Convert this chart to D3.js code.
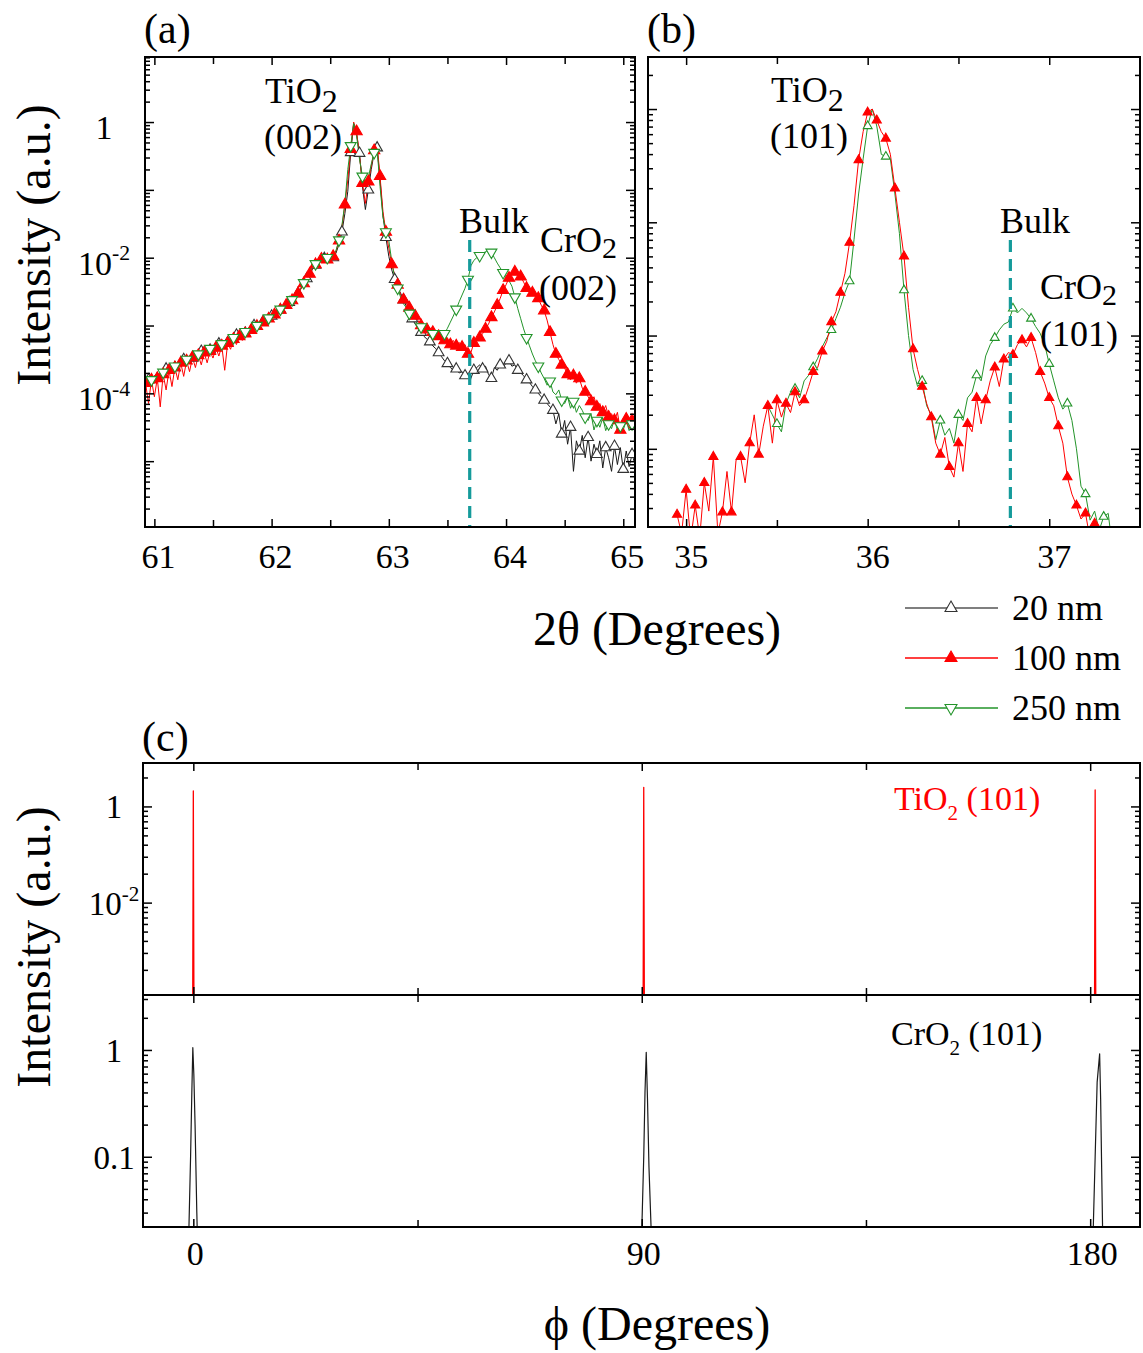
<!DOCTYPE html>
<html>
<head>
<meta charset="utf-8">
<script src="https://cdn.jsdelivr.net/npm/d3@7"></script>
<style>
body { margin: 0; background: #fff; }
text { font-family: "Liberation Serif", "Times New Roman", serif; }
</style>
</head>
<body>
<script>
// (a) 2theta scan, TiO2/CrO2 (002). values are log10 of normalised intensity
var aStart = 60.925, aStep = 0.025;
var a20 = [
  -3.92,-3.80,-3.85,-3.74,-3.78,-3.70,-3.73,-3.64,-3.68,-3.60,
  -3.62,-3.55,-3.58,-3.50,-3.52,-3.46,-3.48,-3.42,-3.44,-3.38,
  -3.40,-3.34,-3.36,-3.31,-3.32,-3.27,-3.29,-3.23,-3.25,-3.19,
  -3.20,-3.14,-3.16,-3.10,-3.11,-3.05,-3.07,-3.00,-3.02,-2.96,
  -2.95,-2.91,-2.90,-2.86,-2.84,-2.80,-2.77,-2.73,-2.70,-2.66,
  -2.63,-2.59,-2.53,-2.46,-2.39,-2.31,-2.24,-2.17,-2.11,-2.05,
  -2.02,-2.01,-2.03,-2.05,-2.00,-1.93,-1.80,-1.62,-1.35,-1.02,
  -0.45,-0.03,-0.18,-0.46,-0.95,-1.29,-1.00,-0.70,-0.45,-0.38,
  -0.85,-1.38,-1.70,-1.98,-2.18,-2.32,-2.44,-2.52,-2.62,-2.72,
  -2.82,-2.90,-2.98,-3.04,-3.10,-3.16,-3.20,-3.24,-3.30,-3.34,
  -3.40,-3.46,-3.52,-3.56,-3.62,-3.66,-3.64,-3.70,-3.68,-3.74,
  -3.72,-3.78,-3.66,-3.62,-3.58,-3.64,-3.60,-3.72,-3.78,-3.62,
  -3.66,-3.58,-3.62,-3.55,-3.52,-3.60,-3.58,-3.66,-3.70,-3.74,
  -3.80,-3.84,-3.90,-3.95,-4.00,-4.05,-4.10,-4.15,-4.20,-4.25,
  -4.45,-4.30,-4.60,-4.40,-4.75,-4.50,-5.15,-4.70,-4.85,-4.62,
  -4.95,-4.65,-5.00,-4.75,-4.90,-4.70,-5.10,-4.80,-4.95,-5.15,
  -4.78,-5.05,-4.80,-5.12,-4.85,-5.08,-4.90,-5.05
];
var a100 = [
  -3.85,-4.15,-3.80,-4.05,-3.78,-4.20,-3.72,-3.95,-3.66,-3.90,
  -3.62,-3.80,-3.55,-3.75,-3.52,-3.68,-3.47,-3.62,-3.44,-3.58,
  -3.40,-3.55,-3.38,-3.48,-3.33,-3.45,-3.30,-3.66,-3.26,-3.35,
  -3.20,-3.28,-3.16,-3.22,-3.12,-3.15,-3.07,-3.10,-3.01,-3.03,
  -2.96,-2.98,-2.90,-2.92,-2.84,-2.82,-2.77,-2.74,-2.70,-2.66,
  -2.63,-2.60,-2.53,-2.46,-2.38,-2.30,-2.24,-2.16,-2.10,-2.04,
  -2.02,-2.00,-2.03,-2.04,-1.98,-1.90,-1.75,-1.55,-1.22,-0.85,
  -0.40,0.00,-0.14,-0.50,-0.90,-1.20,-0.88,-0.65,-0.42,-0.34,
  -0.80,-1.32,-1.62,-1.86,-2.10,-2.25,-2.40,-2.55,-2.62,-2.68,
  -2.74,-2.80,-2.86,-2.93,-3.00,-3.02,-3.06,-3.03,-3.10,-3.08,
  -3.16,-3.12,-3.22,-3.18,-3.28,-3.22,-3.30,-3.25,-3.32,-3.28,
  -3.42,-3.40,-3.26,-3.22,-3.18,-3.12,-3.05,-2.98,-2.88,-2.80,
  -2.70,-2.60,-2.48,-2.40,-2.30,-2.24,-2.21,-2.22,-2.28,-2.36,
  -2.45,-2.50,-2.52,-2.55,-2.60,-2.70,-2.78,-2.92,-3.10,-3.28,
  -3.42,-3.50,-3.58,-3.63,-3.72,-3.80,-3.74,-3.85,-3.78,-3.92,
  -3.98,-4.05,-4.12,-4.05,-4.20,-4.15,-4.28,-4.18,-4.35,-4.30,
  -4.40,-4.28,-4.54,-4.45,-4.38,-4.52,-4.40,-4.45
];
var a250 = [
  -3.86,-3.82,-3.80,-3.78,-3.74,-3.72,-3.69,-3.66,-3.65,-3.61,
  -3.60,-3.56,-3.55,-3.51,-3.50,-3.47,-3.46,-3.43,-3.42,-3.39,
  -3.38,-3.35,-3.34,-3.32,-3.30,-3.28,-3.27,-3.24,-3.23,-3.20,
  -3.18,-3.15,-3.14,-3.11,-3.09,-3.06,-3.05,-3.01,-3.00,-2.96,
  -2.94,-2.91,-2.89,-2.85,-2.83,-2.79,-2.76,-2.72,-2.69,-2.65,
  -2.62,-2.57,-2.51,-2.44,-2.37,-2.29,-2.22,-2.15,-2.09,-2.03,
  -2.00,-1.99,-2.00,-2.01,-1.97,-1.89,-1.74,-1.52,-1.20,-0.70,
  -0.35,-0.02,-0.20,-0.55,-0.80,-0.95,-0.82,-0.62,-0.45,-0.40,
  -0.95,-1.40,-1.62,-1.75,-2.05,-2.30,-2.45,-2.58,-2.68,-2.74,
  -2.82,-2.88,-2.94,-2.98,-3.02,-3.05,-3.08,-3.10,-3.12,-3.14,
  -3.16,-3.17,-3.12,-3.04,-2.95,-2.86,-2.76,-2.65,-2.55,-2.45,
  -2.32,-2.12,-2.04,-2.00,-1.97,-1.94,-1.91,-1.89,-1.92,-2.00,
  -2.08,-2.15,-2.22,-2.28,-2.34,-2.42,-2.58,-2.75,-2.90,-3.05,
  -3.18,-3.30,-3.42,-3.52,-3.60,-3.70,-3.78,-3.88,-3.82,-3.98,
  -4.02,-3.95,-4.10,-4.15,-4.05,-4.22,-4.12,-4.28,-4.18,-4.25,
  -4.35,-4.40,-4.30,-4.54,-4.40,-4.50,-4.36,-4.55,-4.45,-4.52,
  -4.38,-4.55,-4.48,-4.54,-4.40,-4.55,-4.45,-4.50
];
var aBulk = 63.69;

// (b) 2theta scan, TiO2/CrO2 (101), log10 intensity
var bStart = 34.95, bStep = 0.025;
var b100 = [
  -3.58,-3.75,-3.36,-3.80,-3.50,-3.78,-3.30,-3.55,-3.07,-3.75,
  -3.56,-3.20,-3.56,-3.10,-3.07,-3.30,-2.95,-2.70,-3.05,-2.80,
  -2.62,-2.95,-2.57,-2.72,-2.60,-2.68,-2.50,-2.62,-2.57,-2.45,
  -2.32,-2.28,-2.14,-2.05,-1.88,-1.79,-1.62,-1.45,-1.18,-0.85,
  -0.45,-0.20,-0.03,0.00,-0.10,-0.20,-0.26,-0.40,-0.70,-1.00,
  -1.30,-1.75,-2.12,-2.30,-2.45,-2.60,-2.72,-2.95,-3.05,-2.90,
  -3.16,-3.25,-2.95,-3.20,-2.78,-2.85,-2.55,-2.78,-2.57,-2.40,
  -2.28,-2.45,-2.21,-2.15,-2.17,-2.08,-2.04,-2.10,-2.02,-2.15,
  -2.32,-2.42,-2.55,-2.62,-2.80,-2.95,-3.25,-3.40,-3.50,-3.62,
  -3.57,-3.80,-3.66,-3.90,-3.80,-4.00,-4.10,-4.10,-4.20,-4.20,-4.30
];
var b250Start = 35.45;
var b250 = [
  -2.62,-2.70,-2.78,-2.85,-2.60,-2.50,-2.47,-2.55,-2.40,-2.35,
  -2.28,-2.20,-2.10,-2.02,-1.95,-1.85,-1.75,-1.62,-1.52,-1.15,
  -0.75,-0.44,-0.15,0.00,-0.15,-0.40,-0.42,-0.44,-0.75,-1.10,
  -1.60,-2.00,-2.30,-2.45,-2.40,-2.62,-2.70,-2.92,-2.75,-2.88,
  -2.82,-2.95,-2.70,-2.75,-2.55,-2.50,-2.35,-2.40,-2.18,-2.08,
  -2.02,-1.95,-1.90,-1.88,-1.76,-1.80,-1.76,-1.80,-1.85,-1.92,
  -1.98,-2.08,-2.25,-2.40,-2.55,-2.65,-2.60,-2.75,-3.00,-3.33,
  -3.40,-3.63,-3.55,-3.72,-3.60,-3.57,-3.90,-3.75,-4.00,-4.10,-4.20
];
var bBulk = 36.786;

// (c) phi scans, plain intensity
var phiTi = [-0.5,-0.12,-0.05,0,0.05,0.12,0.5, 89.9,90.28,90.35,90.4,90.45,90.52,90.9, 180.5,180.88,180.95,181.0,181.05,181.12,181.5];
var ti101 = [1e-5,1e-4,0.03,2.1,0.02,1e-4,1e-5, 1e-5,1e-4,0.03,2.5,0.02,1e-4,1e-5, 1e-5,1e-4,0.03,2.2,0.02,1e-4,1e-5];
var phiCr = [-1.3,-0.9,-0.55,-0.3,-0.1,0.1,0.35,0.7,1.1, 89.6,90.0,90.4,90.65,90.9,91.15,91.45,91.9,92.3, 180.3,180.6,181.0,181.4,181.9,182.1,182.3,182.5,182.9];
var cr101 = [0.005,0.02,0.1,0.4,1.05,0.6,0.2,0.03,0.005, 0.005,0.02,0.1,0.4,0.95,0.35,0.08,0.02,0.005, 0.005,0.02,0.1,0.5,0.92,0.35,0.08,0.02,0.005];

// ticks and labels
var aXTicks = [61, 62, 63, 64, 65], aXMinor = [61.5, 62.5, 63.5, 64.5];
var aYLabels = [1, 1e-2, 1e-4], aYText = ["1", "10^-2", "10^-4"];
var bXTicks = [35, 36, 37], bXMinor = [35.5, 36.5];
var cXTicks = [0, 90, 180], cXMinor = [45, 135];
var cTopLabels = [1, 1e-2], cTopText = ["1", "10^-2"];
var cBotLabels = [1, 0.1], cBotText = ["1", "0.1"];
var legendText = ["20 nm", "100 nm", "250 nm"];

var RED = "#ff0000", GREEN = "#23942a", DARK = "#1a1a1a", TEAL = "#159b9b";

var svg = d3.select("body").append("svg").attr("width", 1143).attr("height", 1353);

var ax = d3.scaleLinear().domain([60.92, 65.1]).range([145, 635]);
var ay = d3.scaleLog().domain([1.07e-6, 9.1]).range([527, 57]);
var bx = d3.scaleLinear().domain([34.79, 37.5]).range([648, 1140]);
var by = d3.scaleLog().domain([2.04e-4, 2.88]).range([527, 57]);
var cx = d3.scaleLinear().domain([-10.1, 190]).range([143, 1140]);
var cyT = d3.scaleLog().domain([1.2e-4, 8]).range([995, 763]);
var cyB = d3.scaleLog().domain([0.022, 3.27]).range([1227, 995]);

function pow10s(y, step) {
  var d = y.domain(), out = [];
  for (var k = Math.floor(Math.log10(d[0])); k <= Math.ceil(Math.log10(d[1])); k++) {
    if (step === 2 && k % 2 !== 0) continue;
    var v = Math.pow(10, k);
    if (v >= d[0] && v <= d[1]) out.push(v);
  }
  return out;
}
function minorLog(y) {
  var d = y.domain(), out = [];
  for (var k = Math.floor(Math.log10(d[0])); k <= Math.ceil(Math.log10(d[1])); k++)
    for (var m = 2; m <= 9; m++) {
      var v = m * Math.pow(10, k);
      if (v >= d[0] && v <= d[1]) out.push(v);
    }
  return out;
}
// minor ticks when majors are two decades apart
function minorLog2(y) {
  var d = y.domain(), out = [];
  for (var k = -6; k <= 2; k += 2)
    for (var m = 2; m <= 9; m++) {
      var v = m * m * Math.pow(10, k);
      if (v >= d[0] && v <= d[1]) out.push(v);
    }
  return out;
}

function tickSet(g, gen, scale, vals, len, tx, ty) {
  g.append("g").attr("transform", "translate(" + tx + "," + ty + ")")
    .call(gen(scale).tickValues(vals).tickSize(-len).tickFormat(""))
    .call(function (s) { s.select(".domain").remove(); s.selectAll("text").remove(); })
    .selectAll("line").attr("stroke", "#000").attr("stroke-width", 1.5);
}

function box(g, x, y, xMaj, xMin, yMaj, yMin, sides) {
  var x0 = x.range()[0], x1 = x.range()[1], y0 = y.range()[1], y1 = y.range()[0];
  if (sides.indexOf("b") >= 0) { tickSet(g, d3.axisBottom, x, xMaj, 8, 0, y1); tickSet(g, d3.axisBottom, x, xMin, 7, 0, y1); }
  if (sides.indexOf("t") >= 0) { tickSet(g, d3.axisTop, x, xMaj, 8, 0, y0); tickSet(g, d3.axisTop, x, xMin, 7, 0, y0); }
  tickSet(g, d3.axisLeft, y, yMaj, 9, x0, 0);
  tickSet(g, d3.axisLeft, y, yMin, 5, x0, 0);
  tickSet(g, d3.axisRight, y, yMaj, 9, x1, 0);
  tickSet(g, d3.axisRight, y, yMin, 5, x1, 0);
  g.append("rect").attr("x", x0).attr("y", y0).attr("width", x1 - x0).attr("height", y1 - y0)
    .attr("fill", "none").attr("stroke", "#000").attr("stroke-width", 2);
}

function clip(id, x, y) {
  svg.append("clipPath").attr("id", id).append("rect")
    .attr("x", x.range()[0]).attr("y", y.range()[1])
    .attr("width", x.range()[1] - x.range()[0]).attr("height", y.range()[0] - y.range()[1]);
}

function toPts(start, step, vals) {
  return vals.map(function (v, i) { return { x: start + i * step, y: Math.pow(10, v) }; });
}

function drawLine(g, pts, x, y, color, w) {
  var line = d3.line().x(function (d) { return x(d.x); }).y(function (d) { return y(d.y); });
  g.append("path").datum(pts).attr("d", line).attr("fill", "none")
    .attr("stroke", color).attr("stroke-width", w).attr("stroke-linejoin", "round");
}

function drawMarks(g, pts, every, offset, x, y, size, down, fill, stroke) {
  var sym = d3.symbol().type(d3.symbolTriangle).size(size);
  g.selectAll(null).data(pts.filter(function (d, i) { return i % every === offset; }))
    .join("path").attr("d", sym)
    .attr("transform", function (d) { return "translate(" + x(d.x) + "," + y(d.y) + ")" + (down ? " rotate(180)" : ""); })
    .attr("fill", fill).attr("stroke", stroke).attr("stroke-width", 1.1);
}

function numLabel(g, x, y, txt, size, anchor) {
  var p = txt.split("^");
  var t = g.append("text").attr("x", x).attr("y", y).attr("font-size", size).attr("text-anchor", anchor);
  t.append("tspan").text(p[0]);
  if (p.length > 1) t.append("tspan").attr("dy", -size * 0.42).attr("font-size", size * 0.64).text(p[1]);
}

function chem(g, x, y, size, main, sub, rest, subSize, shift, color) {
  var t = g.append("text").attr("x", x).attr("y", y).attr("font-size", size).attr("fill", color || "#000");
  t.append("tspan").text(main);
  t.append("tspan").attr("dy", shift).attr("font-size", subSize).text(sub);
  if (rest) t.append("tspan").attr("dy", -shift).text(rest);
}

// ---------- panel (a)
var ga = svg.append("g");
clip("clipA", ax, ay);
var da = ga.append("g").attr("clip-path", "url(#clipA)");
var p20 = toPts(aStart, aStep, a20), p100 = toPts(aStart, aStep, a100), p250 = toPts(aStart, aStep, a250);
drawLine(da, p20, ax, ay, DARK, 1);
drawLine(da, p100, ax, ay, RED, 1);
drawLine(da, p250, ax, ay, GREEN, 1);
drawMarks(da, p20, 3, 1, ax, ay, 50, false, "#fff", "#333");
drawMarks(da, p100, 2, 0, ax, ay, 55, false, RED, RED);
drawMarks(da, p250, 4, 2, ax, ay, 52, true, "#fff", GREEN);
da.append("line").attr("x1", ax(aBulk)).attr("x2", ax(aBulk)).attr("y1", 240).attr("y2", 527)
  .attr("stroke", TEAL).attr("stroke-width", 3.2).attr("stroke-dasharray", "12,7");
box(ga, ax, ay, aXTicks, aXMinor, pow10s(ay, 1), minorLog(ay), "tb");

aYLabels.forEach(function (v, i) { numLabel(ga, 104, ay(v) + 17, aYText[i], 34, "middle"); });
aXTicks.forEach(function (v) {
  ga.append("text").attr("x", ax(v) + 4).attr("y", 568).attr("font-size", 34).attr("text-anchor", "middle").text(v);
});
chem(ga, 265, 103, 36, "TiO", "2", null, 32, 9);
ga.append("text").attr("x", 264).attr("y", 149).attr("font-size", 36).text("(002)");
ga.append("text").attr("x", 459).attr("y", 233).attr("font-size", 36).text("Bulk");
chem(ga, 540, 252, 36, "CrO", "2", null, 30, 6);
ga.append("text").attr("x", 539).attr("y", 300).attr("font-size", 36).text("(002)");
ga.append("text").attr("x", 144).attr("y", 43).attr("font-size", 42).text("(a)");

// ---------- panel (b)
var gb = svg.append("g");
clip("clipB", bx, by);
var db = gb.append("g").attr("clip-path", "url(#clipB)");
var q100 = toPts(bStart, bStep, b100), q250 = toPts(b250Start, bStep, b250);
drawLine(db, q250, bx, by, GREEN, 1);
drawLine(db, q100, bx, by, RED, 1);
drawMarks(db, q250, 4, 2, bx, by, 34, false, "#fff", GREEN);
drawMarks(db, q100, 2, 0, bx, by, 36, false, RED, RED);
db.append("line").attr("x1", bx(bBulk)).attr("x2", bx(bBulk)).attr("y1", 240).attr("y2", 527)
  .attr("stroke", TEAL).attr("stroke-width", 3.2).attr("stroke-dasharray", "12,7");
box(gb, bx, by, bXTicks, bXMinor, pow10s(by, 1), minorLog(by), "tb");
bXTicks.forEach(function (v) {
  gb.append("text").attr("x", bx(v) + 5).attr("y", 568).attr("font-size", 34).attr("text-anchor", "middle").text(v);
});
chem(gb, 771, 102, 36, "TiO", "2", null, 32, 9);
gb.append("text").attr("x", 770).attr("y", 148).attr("font-size", 36).text("(101)");
gb.append("text").attr("x", 1000).attr("y", 233).attr("font-size", 36).text("Bulk");
chem(gb, 1040, 299, 36, "CrO", "2", null, 30, 6);
gb.append("text").attr("x", 1040).attr("y", 346).attr("font-size", 36).text("(101)");
gb.append("text").attr("x", 647).attr("y", 43).attr("font-size", 42).text("(b)");

// shared axis titles for (a),(b)
svg.append("text").attr("x", 657).attr("y", 645).attr("font-size", 48).attr("text-anchor", "middle").text("2θ (Degrees)");
svg.append("text").attr("transform", "translate(50,245) rotate(-90)").attr("font-size", 48)
  .attr("text-anchor", "middle").text("Intensity (a.u.)");

// legend
var lg = svg.append("g");
var legColors = [["#555", "#333", "#fff", false], [RED, RED, RED, false], [GREEN, GREEN, "#fff", true]];
legendText.forEach(function (t, i) {
  var yy = 608 + i * 50;
  lg.append("line").attr("x1", 905).attr("x2", 998).attr("y1", yy).attr("y2", yy)
    .attr("stroke", legColors[i][0]).attr("stroke-width", 1.3);
  lg.append("path").attr("d", d3.symbol().type(d3.symbolTriangle).size(62)())
    .attr("transform", "translate(951," + yy + ")" + (legColors[i][3] ? " rotate(180)" : ""))
    .attr("fill", legColors[i][2]).attr("stroke", legColors[i][1]).attr("stroke-width", 1.1);
  lg.append("text").attr("x", 1012).attr("y", yy + 12).attr("font-size", 36).text(t);
});

// ---------- panel (c)
var gc = svg.append("g");
clip("clipCT", cx, cyT);
clip("clipCB", cx, cyB);
var dct = gc.append("g").attr("clip-path", "url(#clipCT)");
var dcb = gc.append("g").attr("clip-path", "url(#clipCB)");
drawLine(dct, phiTi.map(function (p, i) { return { x: p, y: ti101[i] }; }), cx, cyT, RED, 1.3);
drawLine(dcb, phiCr.map(function (p, i) { return { x: p, y: cr101[i] }; }), cx, cyB, DARK, 1.2);
box(gc, cx, cyT, cXTicks, cXMinor, pow10s(cyT, 2), minorLog2(cyT), "tb");
box(gc, cx, cyB, cXTicks, cXMinor, pow10s(cyB, 1), minorLog(cyB), "tb");
cTopLabels.forEach(function (v, i) { numLabel(gc, 114, cyT(v) + 12, cTopText[i], 33, "middle"); });
cBotLabels.forEach(function (v, i) { numLabel(gc, 114, cyB(v) + 12, cBotText[i], 33, "middle"); });
cXTicks.forEach(function (v) {
  gc.append("text").attr("x", cx(v) + 2).attr("y", 1265).attr("font-size", 34).attr("text-anchor", "middle").text(v);
});
chem(gc, 894, 810, 34, "TiO", "2", " (101)", 21, 10, RED);
chem(gc, 891, 1045, 34, "CrO", "2", " (101)", 21, 10, "#000");
gc.append("text").attr("x", 142).attr("y", 751).attr("font-size", 42).text("(c)");
svg.append("text").attr("transform", "translate(50,947) rotate(-90)").attr("font-size", 48)
  .attr("text-anchor", "middle").text("Intensity (a.u.)");
svg.append("text").attr("x", 657).attr("y", 1340).attr("font-size", 48).attr("text-anchor", "middle").text("ϕ (Degrees)");
</script>
</body>
</html>
